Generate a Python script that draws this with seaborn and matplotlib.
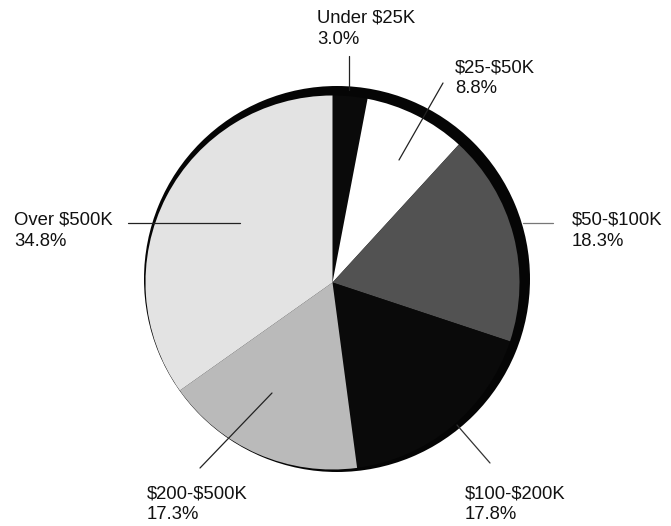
import matplotlib
matplotlib.use("Agg")
import matplotlib.pyplot as plt
import seaborn as sns

sns.set_theme(style="white")
plt.rcParams['font.family'] = ['Liberation Sans', 'DejaVu Sans']

categories = ["Under $25K", "$25-$50K", "$50-$100K", "$100-$200K", "$200-$500K", "Over $500K"]
shares = [3.0, 8.8, 18.3, 17.8, 17.3, 34.8]
pct_labels = ["3.0%", "8.8%", "18.3%", "17.8%", "17.3%", "34.8%"]
slice_colors = ["#0a0a0a", "#ffffff", "#525252", "#0a0a0a", "#bababa", "#e3e3e3"]

# label layout (pixel coords: x, baseline y of first line)
label_pos = [(317, 23), (455, 72), (572, 225), (465, 498), (147, 498), (14, 225)]
leaders = [((349, 56), (349, 90)), ((443, 83), (399, 160)), ((523, 223), (553, 223)),
           ((490, 463), (457, 425)), ((200, 468), (272, 393)), ((128, 223), (240, 223))]
leader_colors = ["#222222", "#222222", "#777777", "#333333", "#222222", "#222222"]

fig = plt.figure(figsize=(6.71, 5.26), dpi=100)
ax = fig.add_axes([0, 0, 1, 1])

# dark rim behind the pie
ax.pie([1], colors=["#050505"], center=(337, 279), radius=193,
       startangle=-90, counterclock=True, frame=True,
       wedgeprops=dict(linewidth=0))

ax.pie(shares, colors=slice_colors, center=(332.5, 282.5), radius=187,
       startangle=-90, counterclock=True, frame=True,
       wedgeprops=dict(linewidth=0))

ax.set_xlim(0, 671)
ax.set_ylim(526, 0)
ax.set_aspect('equal')
ax.axis('off')

for (p0, p1), c in zip(leaders, leader_colors):
    ax.plot([p0[0], p1[0]], [p0[1], p1[1]], color=c, lw=0.9)

for cat, pct, (x, y) in zip(categories, pct_labels, label_pos):
    ax.text(x, y, cat, fontsize=13.3, color="#111111", ha='left', va='baseline',
            parse_math=False)
    ax.text(x, y + 21, pct, fontsize=13.3, color="#111111", ha='left', va='baseline',
            parse_math=False)

fig.savefig("out.png", dpi=100, facecolor="white")
